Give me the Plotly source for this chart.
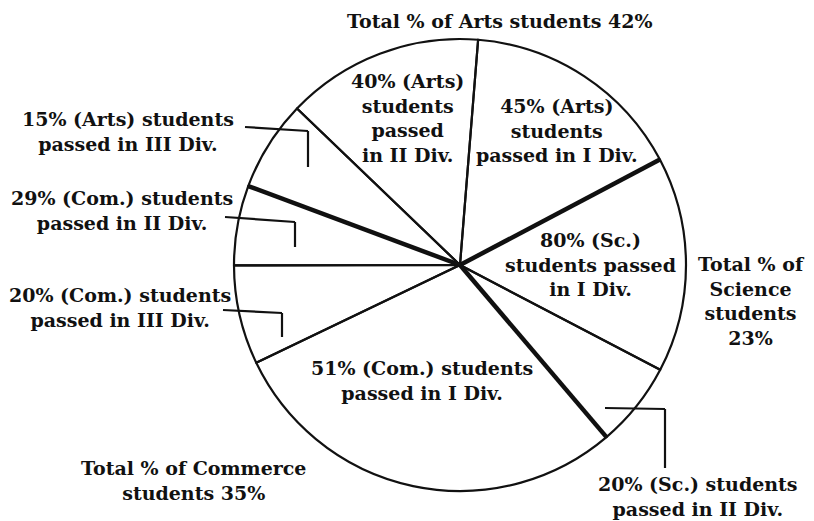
import numpy as np
import plotly.graph_objects as go

# Slices in clockwise order starting just right of 12 o'clock
slice_labels = ["Arts I Div", "Science I Div", "Science II Div", "Commerce I Div",
                "Commerce III Div", "Commerce II Div", "Arts III Div", "Arts II Div"]
# shares as drawn in the picture (percent of full circle)
slice_share = [16.0, 15.4, 6.1, 29.1, 7.1, 5.7, 6.5, 14.1]
start_angle = 4.6  # degrees clockwise from top
# indices after which a subject group ends (thick separators)
group_end_idx = [0, 2, 5]

W, H = 814, 521
cx, cy, R = 460, 265, 226

def px(x):
    return x / W

def py(y):
    return 1 - y / H

dom_x = [px(cx - R), px(cx + R)]
dom_y = [py(cy + R), py(cy - R)]

fig = go.Figure()

# thick group separators via polar subplot
total = sum(slice_share)
cum = start_angle + 360 * np.cumsum(slice_share) / total
for i in group_end_idx:
    fig.add_trace(go.Scatterpolar(r=[0, 1], theta=[cum[i], cum[i]], mode="lines",
                                  line=dict(color="#111", width=4.5),
                                  hoverinfo="skip", showlegend=False))

fig.add_trace(go.Pie(
    labels=slice_labels, values=slice_share, sort=False, direction="clockwise",
    rotation=start_angle, textinfo="none", hoverinfo="label",
    marker=dict(colors=["rgba(0,0,0,0)"] * len(slice_share),
                line=dict(color="#111", width=2.2)),
    domain=dict(x=dom_x, y=dom_y), showlegend=False))

fig.update_layout(
    width=W, height=H, margin=dict(l=0, r=0, t=0, b=0),
    paper_bgcolor="white", plot_bgcolor="white",
    polar=dict(domain=dict(x=dom_x, y=dom_y), bgcolor="rgba(0,0,0,0)",
               radialaxis=dict(visible=False, range=[0, 1]),
               angularaxis=dict(visible=False, rotation=90, direction="clockwise")),
)

FONT = dict(family="DejaVu Serif", size=19, color="#111", weight="bold")

texts = [
    ("Total % of Arts students 42%", 500, 21),
    ("40% (Arts)<br>students<br>passed<br>in II Div.", 407, 118),
    ("45% (Arts)<br>students<br>passed in I Div.", 557, 130),
    ("80% (Sc.)<br>students passed<br>in I Div.", 590, 264),
    ("51% (Com.) students<br>passed in I Div.", 422, 380),
    ("15% (Arts) students<br>passed in III Div.", 128, 132),
    ("29% (Com.) students<br>passed in II Div.", 122, 210),
    ("20% (Com.) students<br>passed in III Div.", 120, 307),
    ("Total % of<br>Science<br>students<br>23%", 751, 301),
    ("20% (Sc.) students<br>passed in II Div.", 698, 496),
    ("Total % of Commerce<br>students 35%", 193, 480),
]
for t, x, y in texts:
    fig.add_annotation(text=t, x=px(x), y=py(y), xref="paper", yref="paper",
                       xanchor="center", yanchor="middle", align="center",
                       showarrow=False, font=FONT)

# elbow leader lines
leaders = [
    [(245, 127), (308, 131), (308, 167)],
    [(225, 217), (295, 222), (295, 247)],
    [(223, 310), (282, 313), (282, 337)],
    [(605, 408), (665, 409), (665, 468)],
]
for pts in leaders:
    for (x0, y0), (x1, y1) in zip(pts[:-1], pts[1:]):
        fig.add_shape(type="line", xref="paper", yref="paper",
                      x0=px(x0), y0=py(y0), x1=px(x1), y1=py(y1),
                      line=dict(color="#111", width=2.2))

fig.write_html("out.html", config={"displayModeBar": False},
               post_script="document.body.style.margin='0px';document.body.style.overflow='hidden';")
